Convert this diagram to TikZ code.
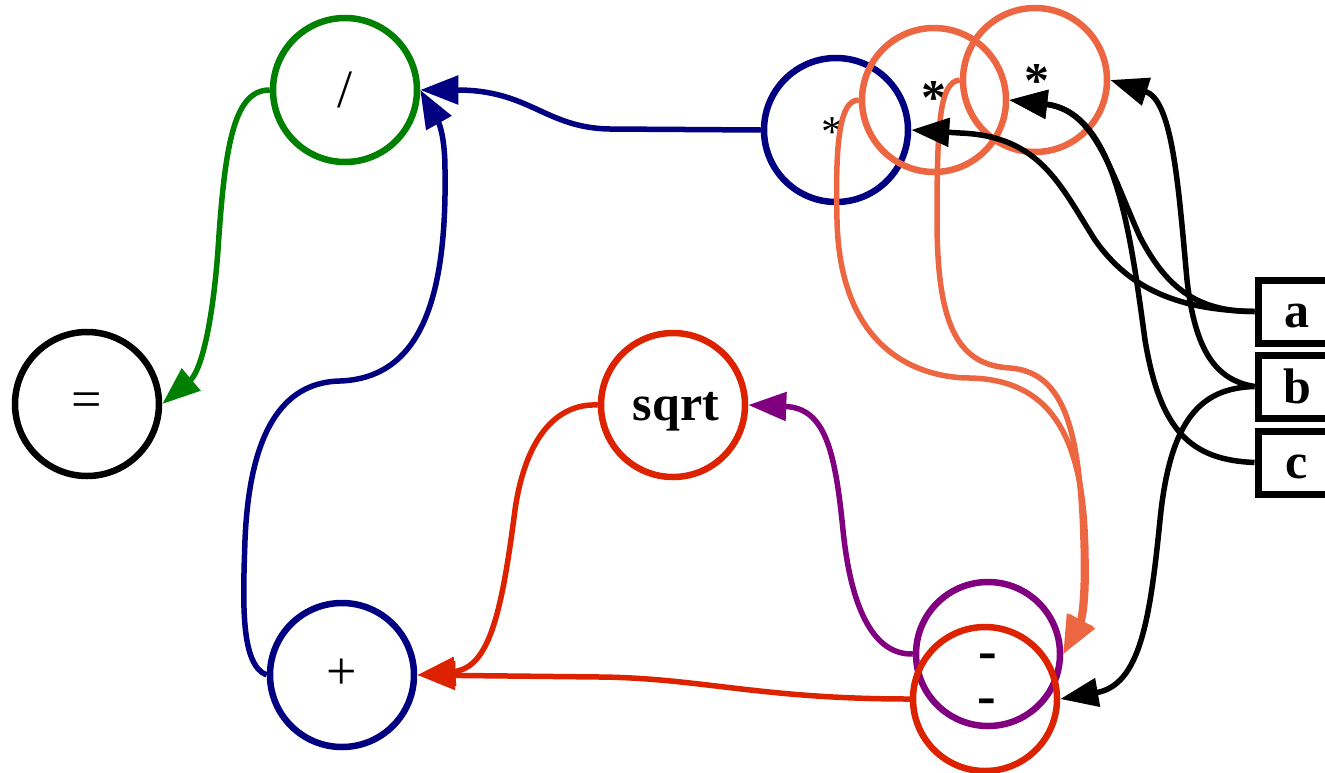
\documentclass[tikz,border=0pt]{standalone}
\usepackage{fontspec}
\setmainfont{Liberation Serif}
\usetikzlibrary{arrows.meta}
\definecolor{navyc}{HTML}{000080}
\definecolor{greenc}{HTML}{008000}
\definecolor{redc}{HTML}{DD2200}
\definecolor{coralc}{HTML}{EC6642}
\definecolor{purplec}{HTML}{800080}
\newcommand\lbl[2]{\raisebox{#1}[0pt][0pt]{#2}}
\tikzset{
  op/.style={circle, draw=#1, line width=6.5pt, minimum size=144pt, inner sep=0pt},
  var/.style={rectangle, draw=black, line width=7pt, minimum width=78pt, minimum height=63pt, inner sep=0pt, font=\fontsize{50}{50}\selectfont\bfseries},
  edge/.style={line width=5.5pt, draw=#1, -{Triangle[length=38pt,width=28pt]}},
  reg/.style={font=\fontsize{54}{54}\selectfont},
  bld/.style={font=\fontsize{50}{50}\selectfont\bfseries},
}
\begin{document}
\begin{tikzpicture}[x=1pt,y=-1pt]
\useasboundingbox (0,0) rectangle (1325,772);
% operator nodes
\node[op=black, reg]   (eq)     at (87,404)   {\lbl{-13pt}{=}};
\node[op=greenc, reg]  (slash)  at (345,90)   {\lbl{-17pt}{/}};
\node[op=navyc, reg]   (plus)   at (342,675)  {\lbl{-14pt}{+}};
\node[op=redc, bld]    (sqrt)   at (673,405)  {\lbl{-15pt}{\hspace*{6pt}sqrt}};
\node[op=navyc, font=\fontsize{44}{44}\selectfont] (bstar) at (836,130) {\lbl{-16pt}{\hspace*{-8pt}*}};
\node[op=coralc, font=\fontsize{50}{50}\selectfont\bfseries] (ostarA) at (934,100) {\lbl{-14pt}{*}};
\node[op=coralc, font=\fontsize{50}{50}\selectfont\bfseries] (ostarB) at (1035,80) {\lbl{-17pt}{\hspace*{4pt}*}};
\node[op=purplec, font=\fontsize{56}{56}\selectfont\bfseries] (pminus) at (988,654) {\lbl{-15pt}{-}};
\node[op=redc, font=\fontsize{56}{56}\selectfont\bfseries]    (rminus) at (985,699) {\lbl{-15pt}{\hspace*{3pt}-}};
% input variables
\node[var] (a) at (1297,311.5) {\lbl{-16pt}{a}};
\node[var] (b) at (1297,386.5) {\lbl{-16.5pt}{b}};
\node[var] (c) at (1297,462.5) {\lbl{-15.5pt}{c}};
% edges
\draw[edge=greenc] (slash.west) .. controls (235,90) and (225,140) .. (218,250)
  .. controls (212,330) and (200,372) .. (eq.east);
\draw[edge=navyc] (bstar.west) -- (610,129) .. controls (545,128) and (530,90) .. (slash.east);
\draw[edge=navyc] (plus.west) .. controls (240,665) and (243,600) .. (245,540)
  .. controls (250,420) and (290,382) .. (340,381)
  .. controls (420,378) and (447,300) .. (445,170)
  .. controls (445,140) and (440,125) .. (slash.east);
\draw[edge=redc] (sqrt.west) .. controls (555,403) and (525,440) .. (515,510)
  .. controls (502,610) and (490,668) .. (plus.east);
\draw[edge=redc] (rminus.west) .. controls (760,699) and (700,678) .. (600,677) -- (plus.east);
\draw[edge=purplec] (pminus.west) .. controls (870,655) and (850,600) .. (843,530)
  .. controls (835,450) and (825,408) .. (sqrt.east);
\draw[edge=coralc] (ostarA.west) .. controls (840,100) and (835,140) .. (837,220)
  .. controls (840,360) and (930,378) .. (970,378)
  .. controls (1060,380) and (1085,450) .. (1086,560)
  .. controls (1087,600) and (1083,620) .. (pminus.east);
\draw[edge=coralc] (ostarB.west) .. controls (940,82) and (937,120) .. (937,220)
  .. controls (937,330) and (960,365) .. (1010,368)
  .. controls (1060,372) and (1080,420) .. (1083,540)
  .. controls (1085,600) and (1080,620) .. (pminus.east);
\draw[edge=black] (a.west) .. controls (1180,310) and (1130,290) .. (1095,240)
  .. controls (1060,185) and (1040,136) .. (960,133) -- (bstar.east);
\draw[edge=black] (a.west) .. controls (1195,312) and (1165,285) .. (1140,237)
  .. controls (1110,170) and (1095,110) .. (ostarA.east);
\draw[edge=black] (c.west) .. controls (1190,460) and (1160,430) .. (1145,340)
  .. controls (1130,230) and (1115,112) .. (ostarA.east);
\draw[edge=black] (b.west) .. controls (1215,380) and (1195,350) .. (1187,280)
  .. controls (1178,180) and (1172,100) .. (ostarB.east);
\draw[edge=black] (b.west) .. controls (1200,388) and (1170,420) .. (1160,520)
  .. controls (1150,620) and (1140,685) .. (rminus.east);
\end{tikzpicture}
\end{document}
